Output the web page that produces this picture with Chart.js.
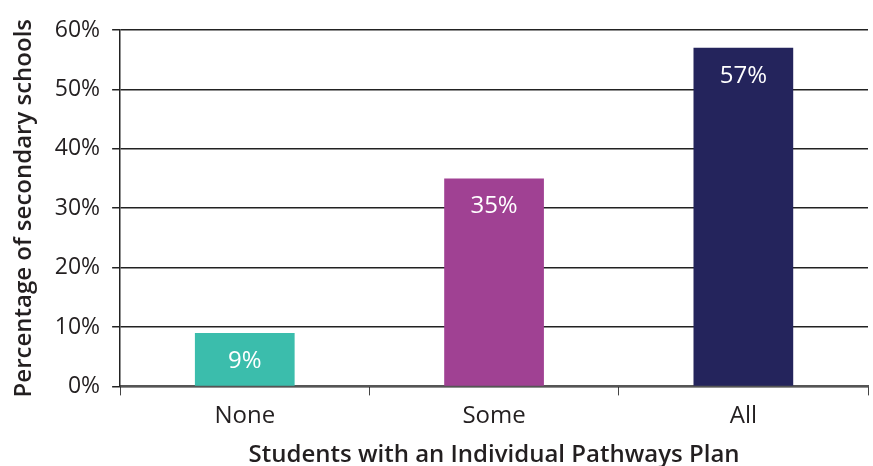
<!DOCTYPE html>
<html>
<head>
<meta charset="utf-8">
<script src="https://cdn.jsdelivr.net/npm/chart.js@4.4.1/dist/chart.umd.min.js"></script>
<style>
  html, body { margin: 0; padding: 0; background: #fff; }
  #wrap { width: 873px; height: 466px; }
</style>
</head>
<body>
<div id="wrap"><canvas id="chart"></canvas></div>
<script>
// bar chart: share of secondary schools by students with a plan
const categories = ['None', 'Some', 'All'];
const shares = [9, 35, 57];
const barColors = ['#3bbdac', '#a04193', '#24245c'];
const yTicks = [0, 10, 20, 30, 40, 50, 60];

const inkColor = '#231f20';
const fontFamily = '"Open Sans", Lato, sans-serif';

/* white value labels just inside the top of each bar */
const barLabels = {
  id: 'barLabels',
  afterDatasetsDraw(chart) {
    const ctx = chart.ctx;
    const meta = chart.getDatasetMeta(0);
    ctx.save();
    ctx.fillStyle = '#ffffff';
    ctx.font = `24px ${fontFamily}`;
    ctx.textAlign = 'center';
    ctx.textBaseline = 'middle';
    meta.data.forEach((bar, i) => {
      ctx.fillText(`${shares[i]}%`, bar.x, bar.y + 28);
    });
    ctx.restore();
  }
};

new Chart(document.getElementById('chart'), {
  type: 'bar',
  data: {
    labels: categories,
    datasets: [{
      data: shares,
      backgroundColor: barColors,
      categoryPercentage: 1,
      barPercentage: 0.4
    }]
  },
  options: {
    responsive: true,
    maintainAspectRatio: false,
    animation: false,
    layout: { padding: { top: 30, right: 5, bottom: -4, left: 10 } },
    plugins: {
      legend: { display: false },
      tooltip: { enabled: false }
    },
    scales: {
      x: {
        offset: true,
        grid: {
          offset: true,
          drawOnChartArea: false,
          drawTicks: true,
          tickLength: 9,
          color: '#444'
        },
        border: { color: '#555', width: 2 },
        ticks: {
          color: inkColor,
          padding: 6,
          font: { family: fontFamily, size: 24 }
        },
        title: {
          display: true,
          text: 'Students with an Individual Pathways Plan',
          color: inkColor,
          font: { family: fontFamily, size: 24, weight: '600' },
          padding: { top: 5, bottom: 0 }
        }
      },
      y: {
        min: 0,
        max: 60,
        afterBuildTicks: (axis) => {
          axis.ticks = yTicks.map(v => ({ value: v }));
        },
        grid: {
          color: '#222',
          lineWidth: 1.5,
          tickLength: 8
        },
        border: { color: '#222', width: 1.5 },
        ticks: {
          color: inkColor,
          padding: 12,
          font: { family: fontFamily, size: 23 },
          callback: (v) => `${v}%`
        },
        title: {
          display: true,
          text: 'Percentage of secondary schools',
          color: inkColor,
          font: { family: fontFamily, size: 24, weight: '600' },
          padding: { top: 0, bottom: 4 }
        }
      }
    }
  },
  plugins: [barLabels]
});
</script>
</body>
</html>
